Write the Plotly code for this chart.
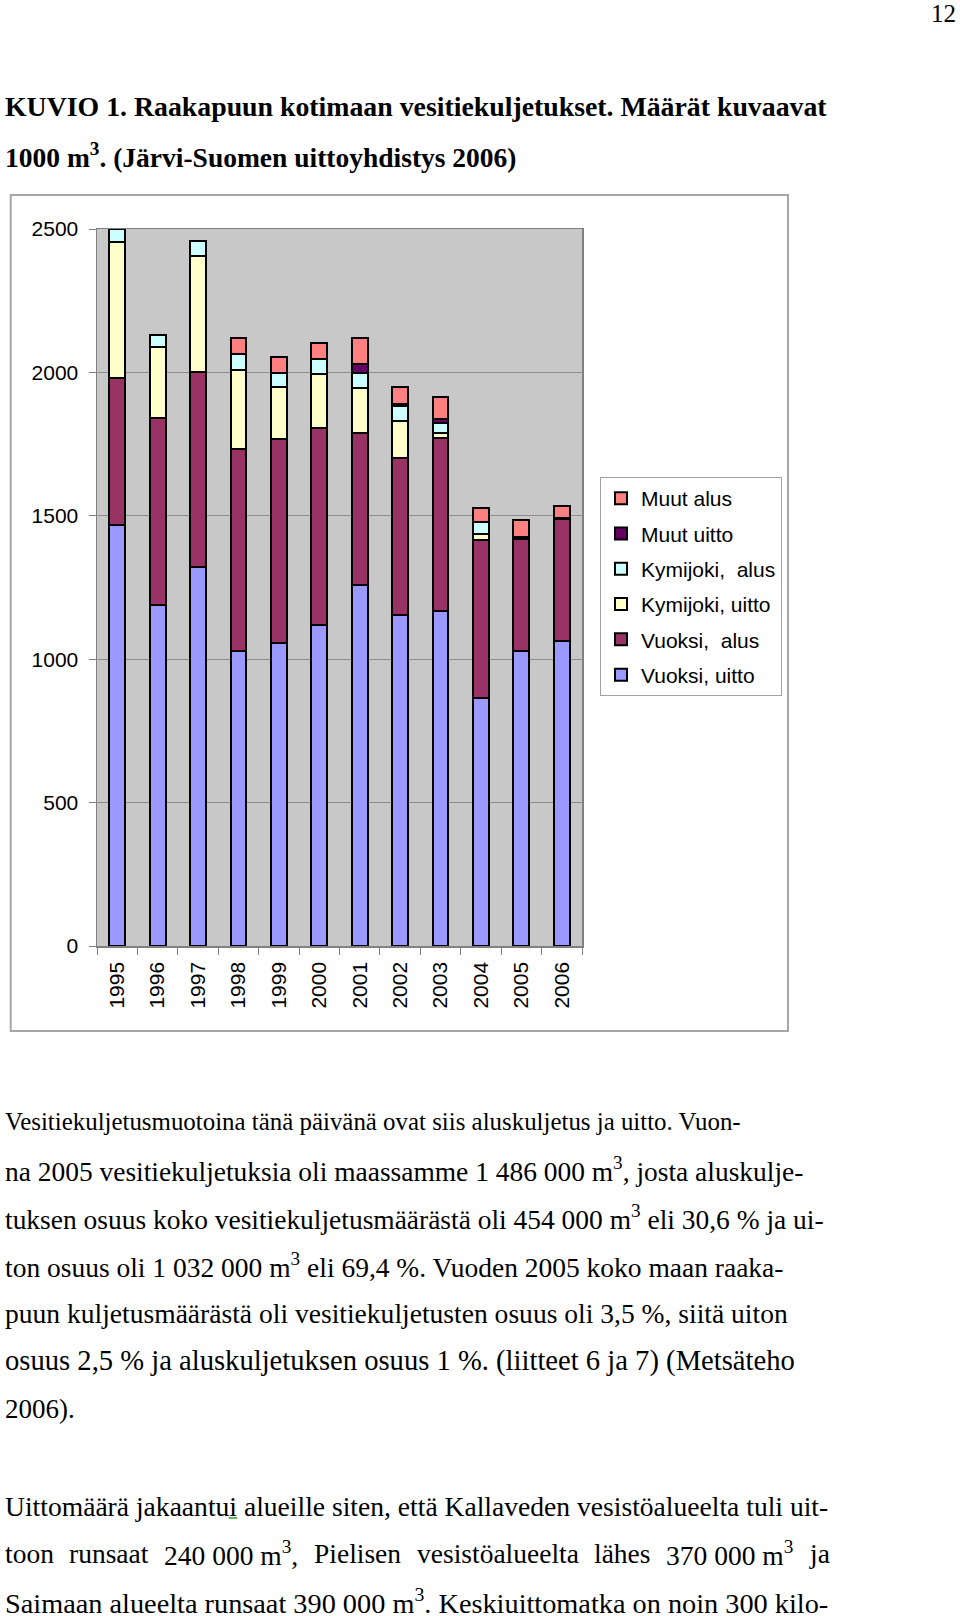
import re
import plotly.graph_objects as go

# ---------------- data (1000 m3) ----------------
years = ["1995", "1996", "1997", "1998", "1999", "2000",
         "2001", "2002", "2003", "2004", "2005", "2006"]
vuoksi_uitto = [1467, 1189, 1323, 1029, 1058, 1118, 1257, 1155, 1167, 866, 1027, 1064]
vuoksi_alus = [512, 652, 680, 705, 711, 687, 530, 548, 603, 551, 393, 424]
kymijoki_uitto = [476, 249, 403, 276, 181, 188, 157, 126, 19, 21, 0, 0]
kymijoki_alus = [45, 41, 51, 53, 49, 53, 55, 54, 33, 41, 0, 0]
muut_uitto = [0, 0, 0, 0, 0, 0, 30, 6, 16, 0, 5, 6]
muut_alus = [0, 0, 0, 56, 55, 56, 90, 61, 76, 48, 61, 40]
y_ticks = [0, 500, 1000, 1500, 2000, 2500]

series = [
    ("Vuoksi, uitto", vuoksi_uitto, "#9999FF"),
    ("Vuoksi,\u00a0 alus", vuoksi_alus, "#993366"),
    ("Kymijoki, uitto", kymijoki_uitto, "#FFFFCC"),
    ("Kymijoki,\u00a0 alus", kymijoki_alus, "#CCFFFF"),
    ("Muut uitto", muut_uitto, "#660066"),
    ("Muut alus", muut_alus, "#FF8080"),
]

NB = "\u00a0"
title_lines = [
    ("<b>KUVIO 1. Raakapuun kotimaan vesitiekuljetukset. Määrät kuvaavat</b>", 107, 27.8),
    ("<b>1000 m<sup>3</sup>. (Järvi-Suomen uittoyhdistys 2006)</b>", 156, 27.5),
]
# (text, right edge px, centre y px, mode)
body_lines = [
    ("Vesitiekuljetusmuotoina tänä päivänä ovat siis aluskuljetus ja uitto. Vuon-", 744, 1121, "fit"),
    (f"na 2005 vesitiekuljetuksia oli maassamme 1{NB}486{NB}000{NB}m<sup>3</sup>, josta aluskulje-", 802, 1169, "fit"),
    (f"tuksen osuus koko vesitiekuljetusmäärästä oli 454{NB}000{NB}m<sup>3</sup> eli 30,6{NB}% ja ui-", 822, 1217, "fit"),
    (f"ton osuus oli 1{NB}032{NB}000{NB}m<sup>3</sup> eli 69,4{NB}%. Vuoden 2005 koko maan raaka-", 784, 1265, "fit"),
    (f"puun kuljetusmäärästä oli vesitiekuljetusten osuus oli 3,5{NB}%, siitä uiton", 786, 1313, "fit"),
    (f"osuus 2,5{NB}% ja aluskuljetuksen osuus 1{NB}%. (liitteet 6 ja 7) (Metsäteho", 793, 1361, "fit"),
    ("2006).", 27.0, 1409, "size"),
    ("Uittomäärä jakaantui alueille siten, että Kallaveden vesistöalueelta tuli uit-", 827, 1506, "fit"),
    (f"toon runsaat 240{NB}000{NB}m<sup>3</sup>, Pielisen vesistöalueelta lähes 370{NB}000{NB}m<sup>3</sup> ja", 827, 1553, "justify"),
    (f"Saimaan alueelta runsaat 390{NB}000{NB}m<sup>3</sup>. Keskiuittomatka on noin 300 kilo-", 827, 1601, "fit"),
]
JUSTIFY_SIZE = 27.5

# Times-compatible advance widths (1/1000 em)
TW = {" ": 250, NB: 250, "%": 833, "(": 333, ")": 333, ",": 250, "-": 333, ".": 250,
      "A": 722, "J": 389, "K": 722, "M": 889, "P": 556, "S": 556, "U": 722, "V": 722,
      "a": 444, "b": 500, "c": 444, "d": 500, "e": 444, "f": 333, "g": 500, "h": 500,
      "i": 278, "j": 278, "k": 500, "l": 278, "m": 778, "n": 500, "o": 500, "p": 500,
      "q": 500, "r": 333, "s": 389, "t": 278, "u": 500, "v": 500, "w": 722, "x": 500,
      "y": 500, "z": 444, "ä": 444, "ö": 500}


def text_width(tok, size):
    w = 0.0
    for p in re.split(r"(<sup>.*?</sup>)", tok):
        if p.startswith("<sup>"):
            w += sum(TW.get(c, 500) for c in p[5:-6]) * 0.7
        else:
            w += sum(TW.get(c, 500) for c in p)
    return w * size / 1000.0


# ---------------- layout geometry (pixels) ----------------
W, H = 960, 1616
PL, PR, PT, PB = 97, 582, 229, 946   # plot area


def xp(px):
    return (px - PL) / (PR - PL)


def yp(py):
    return (PB - py) / (PB - PT)


fig = go.Figure()
n = len(series)
for i, (name, vals, color) in enumerate(series):
    fig.add_trace(go.Bar(
        x=years,
        y=[v if v else None for v in vals],
        name=name,
        legendgroup=name,
        legendrank=n - i,
        marker=dict(color=color, line=dict(color="black", width=2)),
    ))

SERIF = "Liberation Serif, Times New Roman, serif"
SANS = "Liberation Sans, Arial, sans-serif"

ann = []
shapes = []
ann.append(dict(text="12", x=xp(958), y=yp(13), xanchor="right", yanchor="middle",
                font=dict(family=SERIF, size=25)))
for t, yy, sz in title_lines:
    ann.append(dict(text=t, x=xp(3), y=yp(yy), xanchor="left", yanchor="middle",
                    font=dict(family=SERIF, size=sz)))

X0 = 3
for text, param, yy, mode in body_lines:
    if mode == "size":
        ann.append(dict(text=text, x=xp(X0), y=yp(yy), xanchor="left", yanchor="middle",
                        font=dict(family=SERIF, size=param)))
    elif mode == "fit":
        size = 25.0 * (param - X0) / text_width(text, 25.0)
        ann.append(dict(text=text, x=xp(X0), y=yp(yy), xanchor="left", yanchor="middle",
                        font=dict(family=SERIF, size=size)))
        if "jakaantui" in text:
            ux = X0 + text_width(text[:text.index("jakaantui") + 8], size) + 1
            shapes.append(dict(type="line", xref="paper", yref="paper",
                               x0=xp(ux), x1=xp(ux + text_width("i", size) + 1),
                               y0=yp(yy + 12), y1=yp(yy + 12),
                               line=dict(color="#2E9E2E", width=1.5)))
    else:  # justify
        toks = text.split(" ")
        widths = [text_width(t, JUSTIFY_SIZE) for t in toks]
        gap = (param - X0 - sum(widths)) / (len(toks) - 1)
        x = X0
        for t, w in zip(toks, widths):
            ann.append(dict(text=t, x=xp(x), y=yp(yy), xanchor="left", yanchor="middle",
                            font=dict(family=SERIF, size=JUSTIFY_SIZE)))
            x += w + gap

for a in ann:
    a.update(xref="paper", yref="paper", showarrow=False, font_color="black")

shapes.append(dict(type="rect", xref="paper", yref="paper", x0=xp(10.7), x1=xp(788),
                   y0=yp(1031), y1=yp(195),
                   line=dict(color="#A6A6A6", width=2), fillcolor="rgba(0,0,0,0)", layer="below"))

fig.update_layout(
    width=W, height=H,
    margin=dict(l=PL, r=W - PR, t=PT, b=H - PB, pad=0, autoexpand=False),
    paper_bgcolor="white",
    plot_bgcolor="#C8C8C8",
    barmode="stack",
    bargap=0.61,
    font=dict(family=SANS, size=21, color="black"),
    showlegend=True,
    legend=dict(x=xp(600), y=yp(477), xanchor="left", yanchor="top",
                bgcolor="white", bordercolor="#A0A0A0", borderwidth=1,
                font=dict(family=SANS, size=21, color="black"),
                traceorder="grouped", tracegroupgap=5),
    annotations=ann,
    shapes=shapes,
)
fig.update_yaxes(range=[0, 2500], tickvals=y_ticks, showgrid=True, gridcolor="#8C8C8C", gridwidth=1,
                 showline=True, mirror=True, linecolor="#808080", linewidth=1.5,
                 ticks="outside", ticklen=7, tickcolor="#808080", ticklabelstandoff=6,
                 zeroline=False, automargin=False, fixedrange=True)
fig.update_xaxes(type="category", tickangle=-90, showgrid=False,
                 showline=True, mirror=True, linecolor="#808080", linewidth=1.5,
                 ticks="outside", ticklen=7, tickcolor="#808080", tickson="boundaries",
                 ticklabelstandoff=6, automargin=False, fixedrange=True)

fig.write_html("out.html", config={"staticPlot": True},
               post_script="document.body.style.margin='0';document.body.style.overflow='hidden';")
